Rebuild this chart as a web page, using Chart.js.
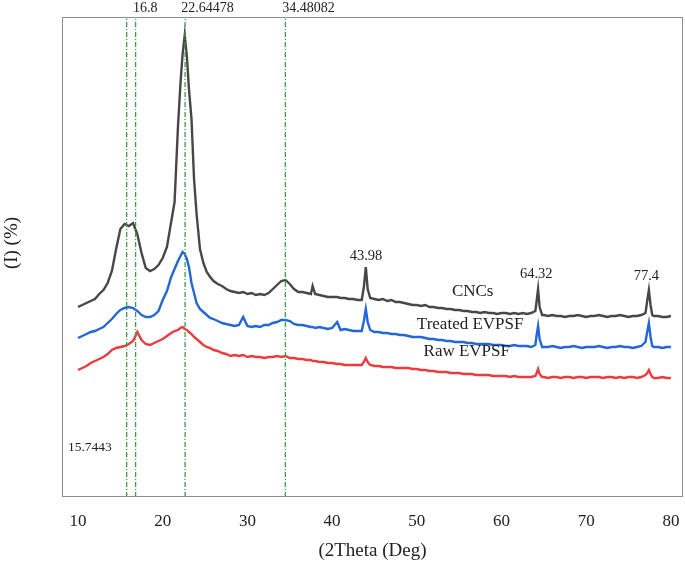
<!DOCTYPE html>
<html>
<head>
<meta charset="utf-8">
<title>XRD</title>
<script src="https://cdn.jsdelivr.net/npm/chart.js@4.4.0/dist/chart.umd.min.js"></script>
<style>
  html, body { margin: 0; padding: 0; background: #ffffff; }
  #wrap { width: 685px; height: 567px; }
</style>
</head>
<body>
<div id="wrap"><canvas id="xrdChart" width="685" height="567"></canvas></div>
<script>

// 2Theta (deg)
var twoTheta = [
  10,10.5,11,11.5,12,12.5,13,13.5,14,14.5,15,15.5,16,16.5,17,17.5,18,18.5,19,19.5,20,20.5,21,
  21.4,21.8,22.1,22.35,22.6,22.85,23.1,23.4,23.7,24,
  24.4,24.8,25.2,25.6,26,
  26.5,27,27.5,28,28.5,29,29.5,30,30.5,31,31.5,32,32.5,33,33.5,34,34.5,35,35.5,36,36.5,37,37.5,
  37.7,38,38.5,39,39.5,40,
  40.6,41,41.5,42,42.5,43,43.5,
  43.75,43.98,44.2,44.5,
  45,45.5,46,46.5,47,47.5,48,48.5,49,49.5,50,50.5,51,51.5,52,52.5,53,53.5,54,54.5,55,55.5,56,56.5,57,57.5,58,58.5,59,59.5,60,60.5,61,61.5,62,62.5,63,63.5,64,
  64.15,64.32,64.5,64.8,
  65,65.5,66,66.5,67,67.5,68,68.5,69,69.5,70,70.5,71,71.5,72,72.5,73,73.5,74,74.5,75,75.5,76,76.5,77,
  77.2,77.4,77.6,77.8,
  78,78.5,79,79.5,80
];

// intensidades (unidades arbitrarias, curvas desplazadas)
var cncs = [
  190,192,194,196,198,203,207,214,226,248,268,273,271,274,263,244,229,226,228,232,239,250,275,
  295,370,414,443,462,441,408,378,318,283,
  248,234,225,220,216,
  213,211,208,206,205,204,205,203,204,202,203,202,204,208,212,216,217,213,208,205,205,204,203,
  211,203,202,201,200,200,
  200,199,199,198,198,197,197,
  210,230,208,199,
  198,197,198,196,197,195,195,194,193,192,192,191,192,190,190,189,189,188,188,187,187,186,186,185,185,184,185,184,184,183,184,184,183,184,183,184,183,184,186,
  196,208,190,182,
  182,181,182,181,181,180,181,181,182,181,180,181,181,182,181,180,181,181,182,181,180,181,181,182,184,
  196,207,192,182,
  181,181,180,180,181
];
var treated = [
  159,161,163,165,166,168,170,174,178,183,187,189,190,189,186,182,180,180,182,186,197,206,220,
  228,236,241,245,243,238,230,214,204,194,
  188,185,182,179,178,
  176,174,173,172,171,172,180,171,170,171,170,172,172,174,175,177,177,176,173,172,172,171,170,
  170,169,170,169,168,169,
  175,167,168,167,166,166,166,
  176,188,175,167,
  165,165,164,164,163,163,162,162,161,160,160,160,159,158,158,157,157,156,156,155,155,155,154,154,153,153,153,153,152,152,152,151,151,152,151,151,151,150,152,
  162,171,158,150,
  150,150,151,150,149,150,150,151,150,149,150,150,150,151,150,149,150,150,151,150,150,149,150,151,155,
  165,174,160,151,
  150,150,149,150,150
];
var raw = [
  127,129,131,134,136,138,140,143,147,149,150,151,153,156,165,157,153,152,154,156,158,161,164,
  166,167,169,170,168,167,165,163,160,158,
  155,152,150,149,147,
  146,144,143,141,142,141,142,140,141,140,140,139,140,140,141,140,141,139,139,138,138,137,137,
  136,136,135,135,134,134,
  133,133,132,132,132,132,132,
  135,139,135,132,
  131,131,130,130,130,129,129,129,129,128,128,127,127,126,126,125,125,125,124,124,124,123,123,123,122,122,122,122,121,121,121,121,120,121,120,120,120,120,121,
  124,128,123,120,
  120,119,120,120,119,120,120,119,120,120,119,120,120,120,119,120,120,119,120,119,120,120,119,120,122,
  124,127,123,120,
  119,119,120,119,119
];

var xTicks = [10, 20, 30, 40, 50, 60, 70, 80];
var markLines = [15.7443, 16.8, 22.64478, 34.48082];

function toPoints(ys){
  return twoTheta.map(function (x, i) {
    return { x: x, y: ys[i] };
  });
}

function serie(label, ys, color){
  return {
    label: label,
    data: toPoints(ys),
    borderColor: color,
    borderWidth: 2.4,
    pointRadius: 0,
    tension: 0,
    fill: false
  };
}

var datasets = [];

// lineas verticales verdes
markLines.forEach(function (v) {
  datasets.push({
    label: "m" + v,
    data: [{ x: v, y: 0 }, { x: v, y: 480 }],
    borderColor: "#3f9a4c",
    borderWidth: 1.3,
    borderDash: [5, 2, 1, 2],
    pointRadius: 0
  });
});

datasets.push(serie("Raw EVPSF", raw, "#e83c3f"));
datasets.push(serie("Treated EVPSF", treated, "#2266d8"));
datasets.push(serie("CNCs", cncs, "#474747"));

// textos sobre la grafica (posicion en unidades de los ejes)
var notes = [
  { t: "16.8", x: 16.5, y: 489, a: "left", s: 14 },
  { t: "22.64478", x: 22.2, y: 489, a: "left", s: 14 },
  { t: "34.48082", x: 34.1, y: 489, a: "left", s: 14 },
  { t: "15.7443", x: 11.4, y: 50, a: "center", s: 13.5 },
  { t: "43.98", x: 44.0, y: 241, a: "center", s: 14.5 },
  { t: "64.32", x: 64.1, y: 223, a: "center", s: 14.5 },
  { t: "77.4", x: 77.1, y: 221, a: "center", s: 14.5 },
  { t: "CNCs", x: 56.6, y: 205, a: "center", s: 17 },
  { t: "Treated EVPSF", x: 56.3, y: 172, a: "center", s: 17 },
  { t: "Raw EVPSF", x: 55.9, y: 145, a: "center", s: 17 }
];

var extras = {
  id: "extras",
  afterDraw: function (chart) {
    var ctx = chart.ctx;
    var a = chart.chartArea;
    var sx = chart.scales.x, sy = chart.scales.y;
    ctx.save();
    // marco
    ctx.strokeStyle = "#8c8c8c";
    ctx.lineWidth = 1;
    ctx.strokeRect(a.left + 0.5, a.top + 0.5, a.right - a.left - 1, a.bottom - a.top - 1);

    ctx.fillStyle = "#222";
    ctx.textBaseline = "middle";
    notes.forEach(function (n) {
      ctx.font = n.s + "px 'Liberation Serif', serif";
      ctx.textAlign = n.a;
      ctx.fillText(n.t, sx.getPixelForValue(n.x), sy.getPixelForValue(n.y));
    });

    // titulo eje y
    ctx.font = "19px 'Liberation Serif', serif";
    ctx.textAlign = "center";
    ctx.translate(12, 243);
    ctx.rotate(-Math.PI / 2);
    ctx.fillText("(I) (%)", 0, 0);
    ctx.restore();
  }
};

var ctx = document.getElementById("xrdChart").getContext("2d");
var grafico = new Chart(ctx, {
  type: "line",
  data: { datasets: datasets },
  options: {
    responsive: false,
    animation: false,
    layout: { padding: { left: 62, right: 2, top: 17, bottom: 0 } },
    plugins: {
      legend: { display: false },
      tooltip: { enabled: false }
    },
    scales: {
      x: {
        type: "linear",
        min: 8.11,
        max: 81.43,
        grid: { display: false, drawTicks: false },
        border: { display: false },
        afterBuildTicks: function (axis) {
          axis.ticks = xTicks.map(function (v) { return { value: v }; });
        },
        afterFit: function (axis) {
          // alto fijo del eje y sin relleno extra por las etiquetas
          axis.height = 70;
          axis.paddingLeft = 0;
          axis.paddingRight = 0;
        },
        ticks: {
          padding: 14,
          color: "#222",
          font: { family: "'Liberation Serif', serif", size: 17 }
        },
        title: {
          display: true,
          text: "(2Theta (Deg)",
          color: "#222",
          padding: { top: 10, bottom: 5 },
          font: { family: "'Liberation Serif', serif", size: 19 }
        }
      },
      y: {
        display: false,
        min: 0,
        max: 480
      }
    }
  },
  plugins: [extras]
});
</script>
</body>
</html>
